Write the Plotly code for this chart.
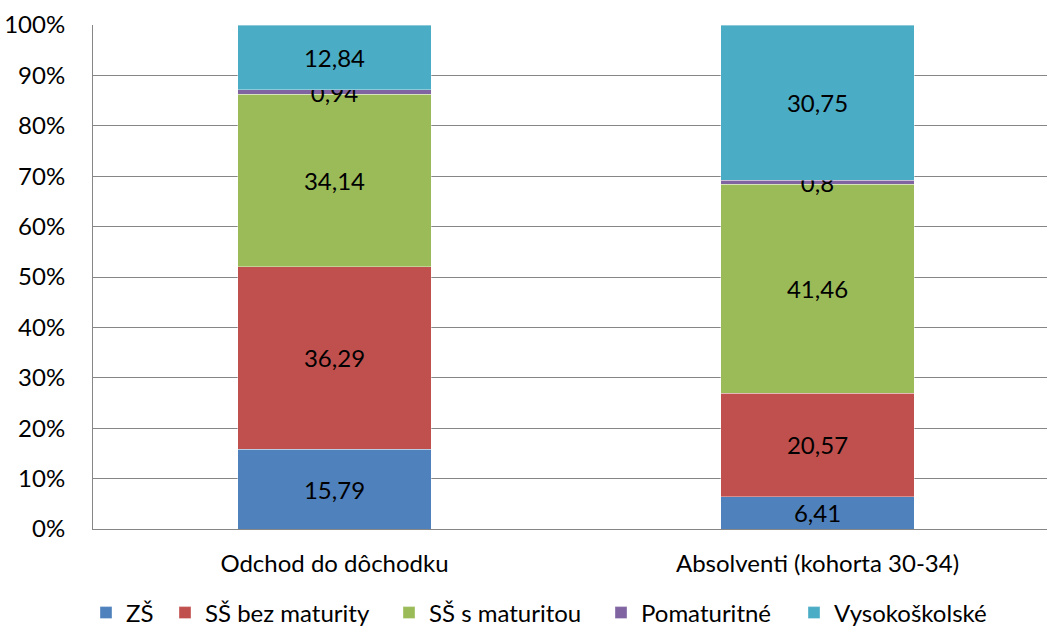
import plotly.graph_objects as go

categories = ["Odchod do dôchodku", "Absolventi (kohorta 30-34)"]
series_names = ["ZŠ", "SŠ bez maturity", "SŠ s maturitou", "Pomaturitné", "Vysokoškolské"]
zs = [15.79, 6.41]
ss_bez = [36.29, 20.57]
ss_s = [34.14, 41.46]
pomat = [0.94, 0.8]
vs = [12.84, 30.75]
colors = ["#4F81BD", "#C0504D", "#9BBB59", "#8064A2", "#4BACC6"]
y_ticks = [0, 10, 20, 30, 40, 50, 60, 70, 80, 90, 100]

FONT = "Lato"
SIZE = 24
LEFT, TOP, PLOT_W, PLOT_H = 93, 25, 966, 504

# left edge (px) of each legend entry along the bottom row
legend_px = [86, 165, 389, 601, 794]
legend_names = ["legend", "legend2", "legend3", "legend4", "legend5"]


def fmt(v):
    # Slovak decimal comma
    return f"{v:g}".replace(".", ",")


fig = go.Figure()
for name, vals, col, lg in zip(series_names, [zs, ss_bez, ss_s, pomat, vs], colors, legend_names):
    fig.add_trace(go.Bar(
        x=categories, y=vals, name=name, legend=lg,
        marker=dict(color=col, line=dict(width=0.6, color="rgba(255,255,255,0.6)")),
        width=0.4,
        text=[fmt(v) for v in vals],
        texttemplate="%{text}", textposition="inside", insidetextanchor="middle",
        textfont=dict(family=FONT, size=SIZE, color="black"),
        cliponaxis=False,
    ))

legend_y = -(613 - (TOP + PLOT_H)) / PLOT_H
layout_legends = {}
for lg, px in zip(legend_names, legend_px):
    layout_legends[lg] = dict(
        orientation="h", x=(px - LEFT) / PLOT_W, xanchor="left",
        y=legend_y, yanchor="middle", bgcolor="rgba(0,0,0,0)",
        font=dict(family=FONT, size=SIZE), itemwidth=30,
    )

fig.update_layout(
    barmode="stack",
    width=LEFT + PLOT_W + 11, height=660,
    margin=dict(l=LEFT, r=11, t=TOP, b=660 - TOP - PLOT_H),
    paper_bgcolor="white", plot_bgcolor="white",
    uniformtext=dict(mode="show", minsize=SIZE),
    font=dict(family=FONT, size=SIZE, color="black"),
    showlegend=True,
    **layout_legends,
)
fig.update_yaxes(range=[0, 100], tickvals=y_ticks, ticktext=[f"{t}%" for t in y_ticks],
                 showgrid=True, gridcolor="#868686", gridwidth=1,
                 showline=True, linecolor="#868686", linewidth=1,
                 zeroline=False, ticks="", ticklabelstandoff=22, automargin=False,
                 tickfont=dict(family=FONT, size=SIZE))
fig.update_xaxes(showline=True, linecolor="#868686", linewidth=1, ticks="",
                 ticklabelstandoff=13, automargin=False,
                 tickfont=dict(family=FONT, size=SIZE))

fig.write_html("out.html")
